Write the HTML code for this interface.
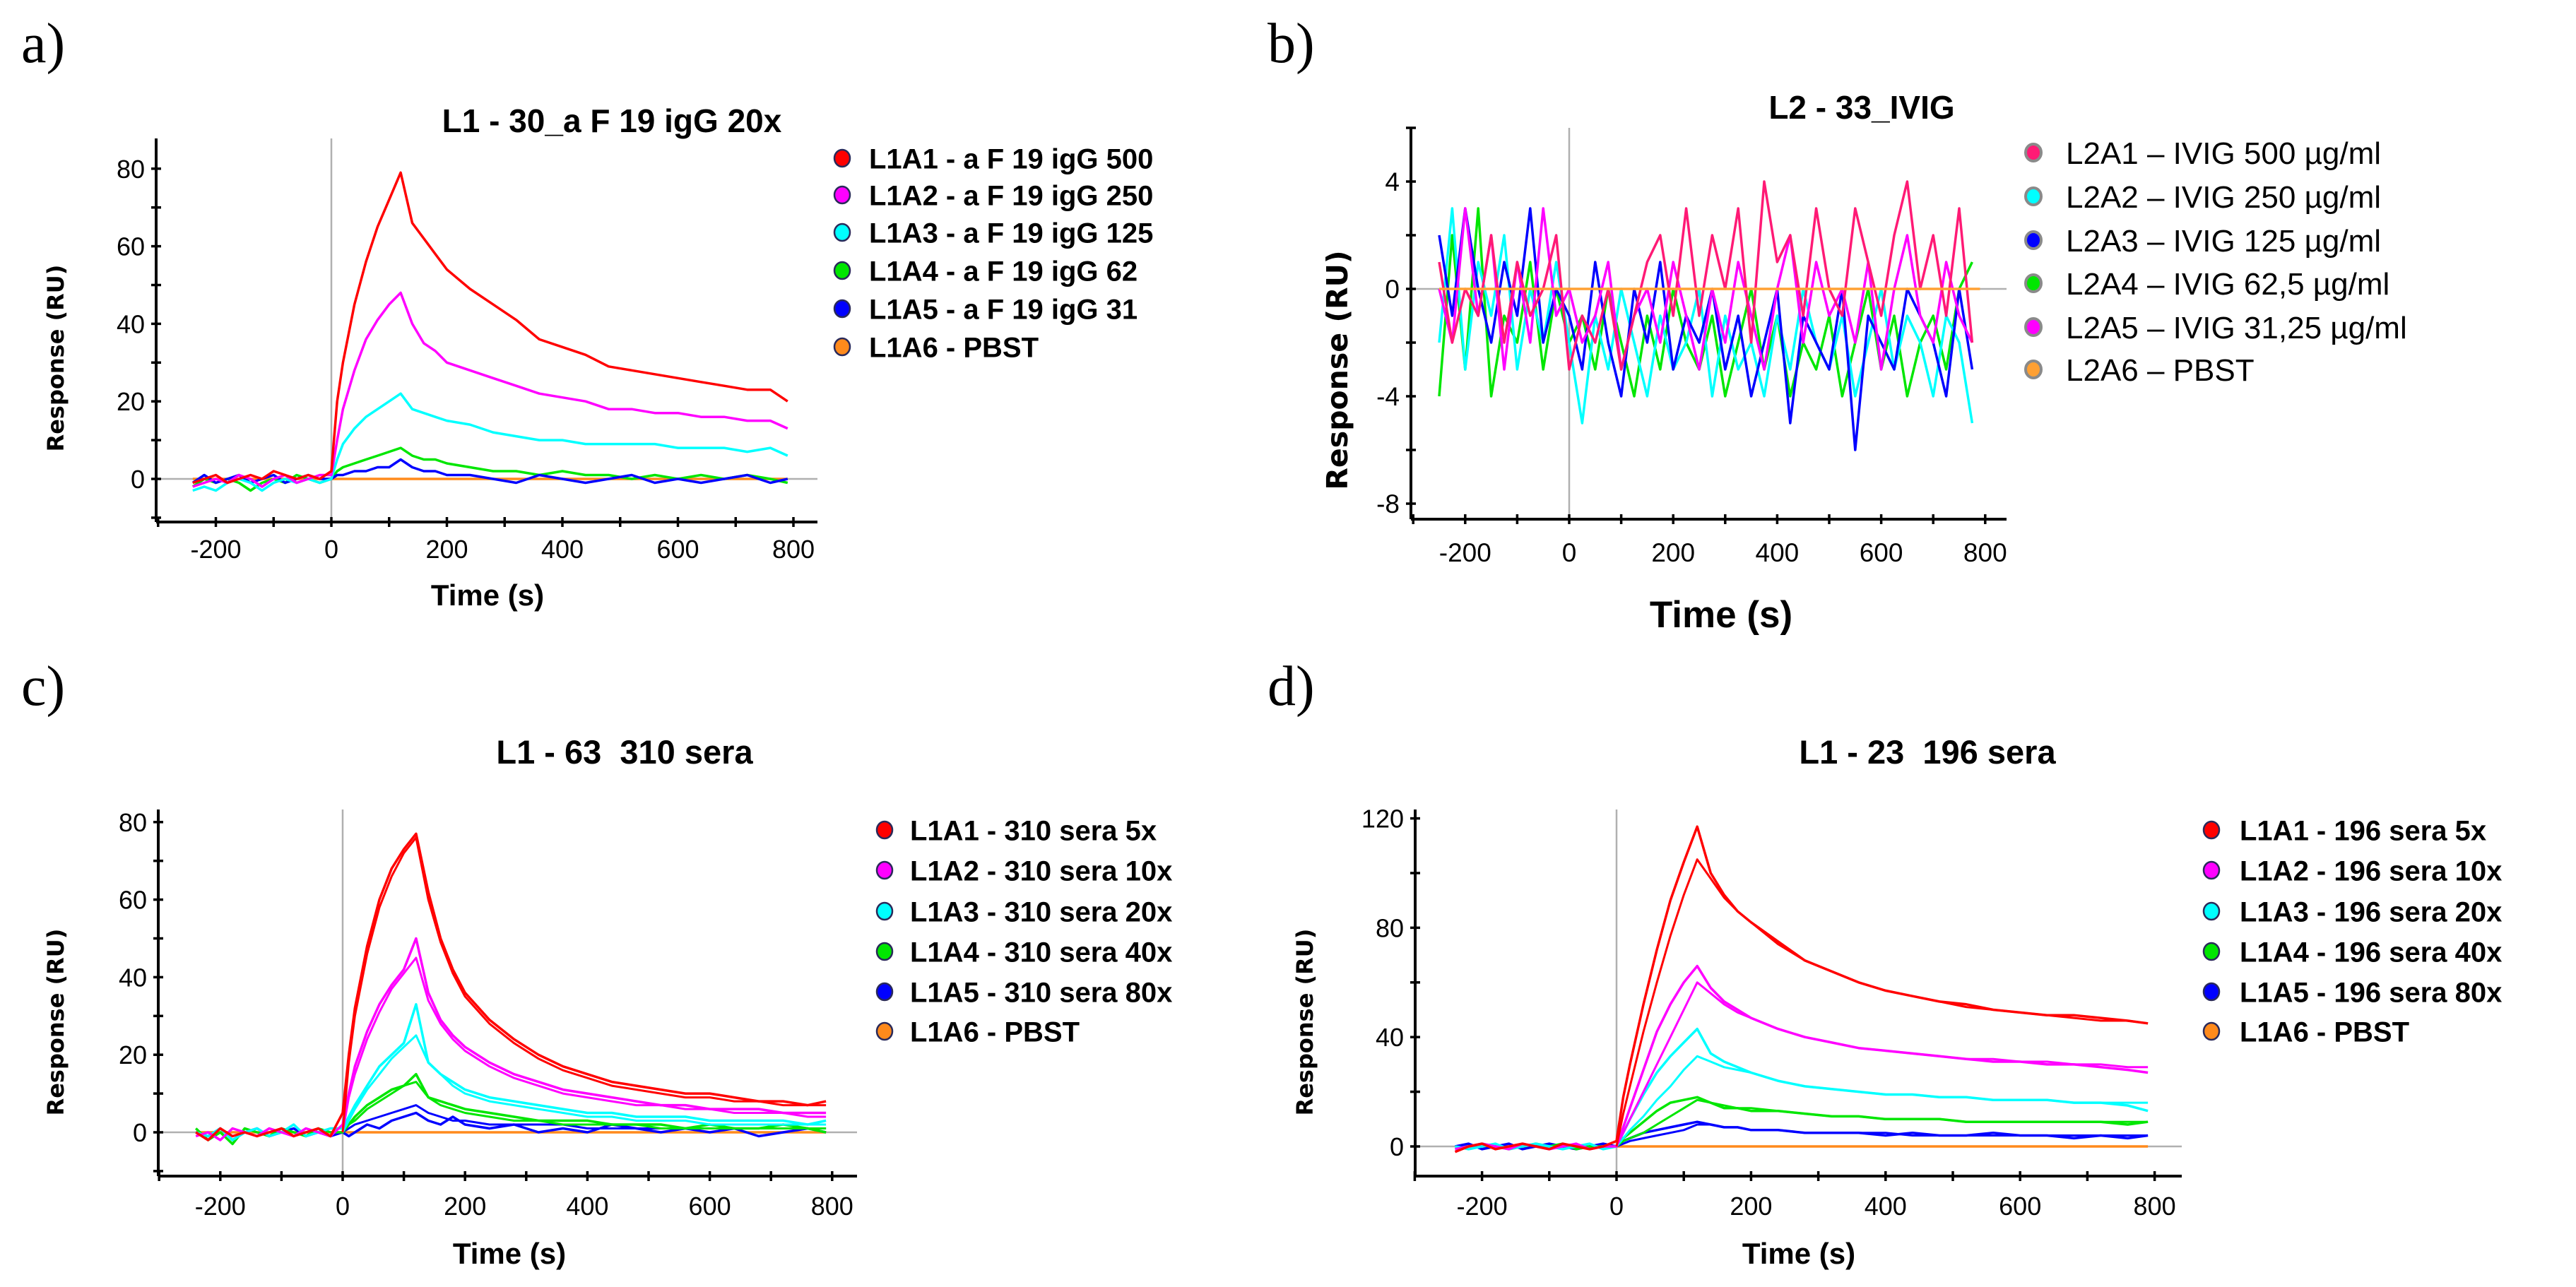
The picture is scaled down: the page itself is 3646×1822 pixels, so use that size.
<!DOCTYPE html>
<html><head><meta charset="utf-8"><style>
html,body{margin:0;padding:0;background:#fff}
svg{display:block}
text{font-family:"Liberation Sans",sans-serif;fill:#000}
.t{white-space:pre}
</style></head><body>
<svg id="fig" width="3646" height="1822" viewBox="0 0 3646 1822" xmlns="http://www.w3.org/2000/svg">
<rect width="3646" height="1822" fill="#fff"/>
<text x="30" y="88" font-family="Liberation Serif" font-size="80" style="font-family:'Liberation Serif',serif">a)</text>
<text x="1794" y="88" font-size="80" style="font-family:'Liberation Serif',serif">b)</text>
<text x="30" y="998" font-size="80" style="font-family:'Liberation Serif',serif">c)</text>
<text x="1794" y="998" font-size="80" style="font-family:'Liberation Serif',serif">d)</text>
</svg>
<script>
const T = [-240,-220,-200,-180,-160,-140,-120,-100,-80,-60,-40,-20,0,10,20,40,60,80,100,120,140,160,180,200,240,280,320,360,400,440,480,520,560,600,640,680,720,760,790];
const TF = [0,10,20,40,60,80,100,120,140,160,180,200,240,280,320,360,400,440,480,520,560,600,640,680,720,760,790];
const TB = [-250,-225,-200,-175,-150,-125,-100,-75,-50,-25,0,25,50,75,100,125,150,175,200,225,250,275,300,325,350,375,400,425,450,475,500,525,550,575,600,625,650,675,700,725,750,775];
const T0 = [-240,790];
const Z0 = [0,0];

const aRed=[-1,0,1,-1,0,1,0,2,1,0,1,0,2,20,30,45,56,65,72,79,66,62,58,54,49,45,41,36,34,32,29,28,27,26,25,24,23,23,20];
const aMag=[-2,-1,0,-1,1,0,-2,0,1,-1,0,1,1,10,18,28,36,41,45,48,40,35,33,30,28,26,24,22,21,20,18,18,17,17,16,16,15,15,13];
const aCyan=[-3,-2,-3,-1,0,-1,-3,-1,0,-1,0,-1,0,5,9,13,16,18,20,22,18,17,16,15,14,12,11,10,10,9,9,9,9,8,8,8,7,8,6];
const aGreen=[-2,0,-1,0,-1,-3,-1,0,-1,1,0,-1,0,2,3,4,5,6,7,8,6,5,5,4,3,2,2,1,2,1,1,0,1,0,1,0,1,0,-1];
const aBlue=[-1,1,-1,0,1,-1,0,1,-1,0,1,0,0,1,1,2,2,3,3,5,3,2,2,1,1,0,-1,1,0,-1,0,1,-1,0,-1,0,1,-1,0];

const bPink=[1,-2,0,-1,2,-2,1,-1,0,2,-3,-1,-2,0,-3,-1,1,2,-1,3,-1,2,0,3,-2,4,1,2,-1,3,0,-1,3,1,-1,2,4,0,2,-1,3,-2];
const bCyan=[-2,3,-3,1,-1,2,-3,0,-2,1,-2,-5,-1,-3,0,-2,-4,-1,-3,-2,0,-4,-1,-3,-2,-4,-1,-3,0,-2,-3,-1,-4,-2,0,-3,-1,-2,-4,-1,-2,-5];
const bBlue=[2,-1,3,0,-2,1,-1,3,-2,0,-1,-3,1,-2,-4,0,-2,1,-3,-1,-2,0,-3,-1,-4,-2,0,-5,-1,-2,-3,0,-6,-1,-2,-3,0,-1,-2,-4,0,-3];
const bGreen=[-4,2,-3,3,-4,-1,-2,1,-3,0,-2,-1,-3,0,-2,-4,-1,-3,0,-2,-3,-1,-4,-2,0,-3,-1,-4,-2,-3,-1,-4,-2,0,-3,-1,-4,-2,-1,-3,0,1];
const bMag=[0,-2,3,-1,2,-3,1,-2,3,-1,0,-2,-1,1,-3,-1,0,-2,1,-1,-3,0,-2,1,-1,-3,0,2,-2,1,-1,0,-2,1,-3,0,2,-1,-2,1,-1,-2];

const cRed=[0,-2,1,-1,0,-1,0,1,-1,0,1,-1,5,20,32,48,60,68,73,77,62,50,42,36,29,24,20,17,15,13,12,11,10,10,9,8,8,7,8];
const cRedFit=[0,18,30,46,58,66,72,76,60,49,41,35,28,23,19,16,14,12,11,10,9,9,8,8,7,7,7];
const cMag=[-1,0,-2,1,0,-1,1,0,-1,1,0,-1,2,10,17,26,33,38,42,50,36,29,25,22,18,15,13,11,10,9,8,7,7,6,6,6,5,5,5];
const cMagFit=[0,9,15,24,31,37,41,45,34,28,24,21,17,14,12,10,9,8,7,7,6,6,5,5,5,4,4];
const cCyan=[0,-1,1,-2,0,1,-1,0,2,-1,0,1,1,4,7,12,17,20,23,33,18,15,13,11,9,8,7,6,5,5,4,4,4,3,3,3,3,2,3];
const cCyanFit=[0,3,6,11,15,19,22,25,18,15,12,10,8,7,6,5,4,4,3,3,3,2,2,2,2,2,2];
const cGreen=[1,-2,0,-3,1,0,-1,1,0,-1,1,0,0,2,4,7,9,11,12,15,9,8,7,6,5,4,3,3,3,2,2,2,1,2,1,1,2,1,0];
const cGreenFit=[0,2,3,6,8,10,12,13,9,7,6,5,4,3,3,2,2,2,2,1,1,1,1,1,1,1,1];
const cBlue=[0,-1,1,-2,0,1,-1,0,1,-1,0,-1,0,-1,0,2,1,3,4,5,3,2,4,2,1,2,0,1,0,2,1,0,1,0,1,-1,0,1,0];
const cBlueFit=[0,1,2,3,4,5,6,7,5,4,3,3,2,2,2,2,1,1,1,1,1,1,1,1,1,1,1];

const dRed=[-2,0,1,-1,0,1,0,-1,1,0,-1,0,2,18,30,52,72,90,104,117,100,92,86,82,75,68,64,60,57,55,53,52,50,49,48,48,47,46,45];
const dRedFit=[0,12,22,42,60,77,92,105,98,91,86,82,74,68,64,60,57,55,53,51,50,49,48,47,46,46,45];
const dMag=[-1,0,1,0,-1,1,0,-1,0,1,-1,0,0,7,14,28,42,52,60,66,58,53,50,47,43,40,38,36,35,34,33,32,31,31,30,30,29,28,27];
const dMagFit=[0,5,10,20,30,40,50,60,56,52,49,47,43,40,38,36,35,34,33,32,32,31,31,30,30,29,29];
const dCyan=[0,-1,0,1,-1,0,1,0,-1,0,1,-1,0,5,10,19,27,33,38,43,34,31,29,27,24,22,21,20,19,19,18,18,17,17,17,16,16,15,13];
const dCyanFit=[0,3,6,11,17,22,28,33,31,29,28,27,24,22,21,20,19,19,18,18,17,17,17,16,16,16,16];
const dGreen=[-1,0,1,0,-1,0,1,0,1,-1,0,0,0,3,5,9,13,16,17,18,16,14,14,13,13,12,11,11,10,10,10,9,9,9,9,9,9,8,9];
const dGreenFit=[0,2,3,5,8,11,14,17,16,15,14,14,13,12,11,11,10,10,10,9,9,9,9,9,9,9,9];
const dBlue=[0,1,-1,0,1,-1,0,1,0,-1,0,1,0,2,3,5,6,7,8,9,8,7,7,6,6,5,5,5,4,5,4,4,5,4,4,3,4,3,4];
const dBlueFit=[0,1,2,3,4,5,6,8,8,7,7,6,6,5,5,5,5,4,4,4,4,4,4,4,4,4,4];

const legA=["L1A1 - a F 19 igG 500","L1A2 - a F 19 igG 250","L1A3 - a F 19 igG 125","L1A4 - a F 19 igG 62","L1A5 - a F 19 igG 31","L1A6 - PBST"];
const legB=["L2A1 \u2013 IVIG 500 \u00b5g/ml","L2A2 \u2013 IVIG 250 \u00b5g/ml","L2A3 \u2013 IVIG 125 \u00b5g/ml","L2A4 \u2013 IVIG 62,5 \u00b5g/ml","L2A5 \u2013 IVIG 31,25 \u00b5g/ml","L2A6 \u2013 PBST"];
const legC=["L1A1 - 310 sera 5x","L1A2 - 310 sera 10x","L1A3 - 310 sera 20x","L1A4 - 310 sera 40x","L1A5 - 310 sera 80x","L1A6 - PBST"];
const legD=["L1A1 - 196 sera 5x","L1A2 - 196 sera 10x","L1A3 - 196 sera 20x","L1A4 - 196 sera 40x","L1A5 - 196 sera 80x","L1A6 - PBST"];

const NS="http://www.w3.org/2000/svg";
const svg=document.getElementById('fig');
const RED="#ff0000",MAG="#ff00ff",CYA="#00ffff",GRN="#00e600",BLU="#0000ff",ORA="#ff8a1c",PNK="#ff1a75";

function mk(tag,attrs,parent){const e=document.createElementNS(NS,tag);for(const k in attrs)e.setAttribute(k,attrs[k]);(parent||svg).appendChild(e);return e;}

function panel(c){
  const g=mk('g',{});
  
  
  const sx=t=>c.x0+t*c.pxs, sy=v=>c.y0-v*c.pxu;
  const ref1=mk('line',{x1:c.L,x2:c.R,y1:sy(0),y2:sy(0),stroke:'#b0b0b0','stroke-width':2.5},g);
  
  
  const ref2=mk('line',{x1:sx(0),x2:sx(0),y1:c.T,y2:c.B,stroke:'#b0b0b0','stroke-width':2.5},g);
  
  
  c.series.forEach(s=>{
    const pts=s.t.map((t,i)=>sx(t).toFixed(1)+','+sy(s.v[i]).toFixed(1)).join(' ');
    const p=mk('polyline',{points:pts,fill:'none',stroke:s.col,'stroke-width':s.w||3.5,'stroke-linejoin':'round'},g);
    
    
  });
  const ax=mk('g',{},g);
  
  
  mk('line',{x1:c.L,x2:c.L,y1:c.T,y2:c.B,stroke:'#000','stroke-width':4},ax);
  mk('line',{x1:c.L,x2:c.R,y1:c.B,y2:c.B,stroke:'#000','stroke-width':4},ax);
  for(let v=c.yt[0];v<=c.yt[1]+1e-9;v+=c.yt[2]){
    mk('line',{x1:c.L-7,x2:c.L+7,y1:sy(v),y2:sy(v),stroke:'#000','stroke-width':3.5},ax);
  }
  c.yl.forEach(v=>{
    const tx=mk('text',{x:c.L-16,y:sy(v)+13,'font-size':c.tf,'text-anchor':'end'},ax);
    tx.textContent=v;
    
    
  });
  for(let t=-300;t<=800;t+=100){
    mk('line',{x1:sx(t),x2:sx(t),y1:c.B-7,y2:c.B+7,stroke:'#000','stroke-width':3.5},ax);
  }
  [-200,0,200,400,600,800].forEach(t=>{
    const tx=mk('text',{x:sx(t),y:c.xly,'font-size':c.tf,'text-anchor':'middle'},ax);
    tx.textContent=t;
    
    
  });
  const ti=mk('text',{x:c.tx,y:c.ty,'font-size':c.tfs,'font-weight':'bold','text-anchor':'middle','class':'t'},g);
  ti.textContent=c.title;
  
  
  const yt=mk('text',{x:0,y:0,'font-size':c.ytf,'font-weight':'bold','text-anchor':'middle',transform:`translate(${c.ytx},${c.yty}) rotate(-90)`,style:'font-family:"DejaVu Sans",sans-serif'},g);
  yt.textContent='Response (RU)';
  
  
  const xt=mk('text',{x:c.xtx,y:c.xty,'font-size':c.xtf,'font-weight':'bold','text-anchor':'middle'},g);
  xt.textContent='Time (s)';
  
  
  const lg=mk('g',{},g);
  
  
  c.leg.forEach((lab,i)=>{
    const y=c.ly[i];
    const e=mk('g',{},lg);
    
    
    mk('ellipse',{cx:c.lmx,cy:y,rx:11,ry:12,fill:c.lcol[i],stroke:c.lstroke,'stroke-width':c.lsw},e);
    const tx=mk('text',{x:c.ltx,y:y+c.lf*0.36,'font-size':c.lf,'font-weight':c.lbold?'bold':'normal'},e);
    tx.textContent=lab;
  });
}

function S(t,v,col,n,w){return {t:t,v:v,col:col,n:n,w:w};}
const LC=[RED,MAG,CYA,GRN,BLU,ORA];
const ROWS_A=[224,276,329,383,437,491];
const ROWS_C=[1175,1232,1290,1347,1404,1460];

panel({name:'panel-a',x0:469,pxs:0.8175,y0:678,pxu:5.49,L:221,R:1157,T:196,B:739,yt:[-10,80,10],yl:[0,20,40,60,80],tf:36,xly:790,
  title:'L1 - 30_a F 19 igG 20x',tx:866,ty:187,tfs:46,ytx:90,yty:507,ytf:32,xtx:690,xty:857,xtf:42,
  leg:legA,ly:ROWS_A,lmx:1192,ltx:1230,lf:40,lbold:true,lcol:LC,lstroke:'#2a2a5a',lsw:2.5,
  series:[S(T0,Z0,ORA,'series-l1a6'),S(T,aGreen,GRN,'series-l1a4'),S(T,aBlue,BLU,'series-l1a5'),S(T,aCyan,CYA,'series-l1a3'),S(T,aMag,MAG,'series-l1a2'),S(T,aRed,RED,'series-l1a1')]});

panel({name:'panel-b',x0:2221,pxs:0.736,y0:409,pxu:38,L:1997,R:2840,T:181,B:735,yt:[-8,6,2],yl:[4,0,-4,-8],tf:37,xly:795,
  title:'L2 - 33_IVIG',tx:2635,ty:168,tfs:46,ytx:1907,yty:524,ytf:41,xtx:2436,xty:888,xtf:53,
  leg:legB,ly:[216,278,340,401,463,523],lmx:2878,ltx:2924,lf:44,lbold:false,lcol:[PNK,CYA,BLU,GRN,MAG,"#ffa033"],lstroke:'#8a8a8a',lsw:4,
  series:[S(TB,bGreen,GRN,'series-l2a4'),S(TB,bCyan,CYA,'series-l2a2'),S(TB,bBlue,BLU,'series-l2a3'),S(TB,bMag,MAG,'series-l2a5'),S(TB,bPink,PNK,'series-l2a1'),S([-250,790],Z0,"#ffa033",'series-l2a6')]});

panel({name:'panel-c',x0:485,pxs:0.866,y0:1603,pxu:5.49,L:224,R:1213,T:1146,B:1665,yt:[-10,80,10],yl:[0,20,40,60,80],tf:36,xly:1720,
  title:'L1 - 63  310 sera',tx:884,ty:1081,tfs:47,ytx:90,yty:1447,ytf:32,xtx:721,xty:1789,xtf:42,
  leg:legC,ly:ROWS_C,lmx:1252,ltx:1288,lf:40,lbold:true,lcol:LC,lstroke:'#2a2a5a',lsw:2.5,
  series:[S(T0,Z0,ORA,'series-l1a6'),S(T,cBlue,BLU,'series-l1a5'),S(TF,cBlueFit,BLU,'fit-l1a5',3),S(T,cGreen,GRN,'series-l1a4'),S(TF,cGreenFit,GRN,'fit-l1a4',3),S(T,cCyan,CYA,'series-l1a3'),S(TF,cCyanFit,CYA,'fit-l1a3',3),S(T,cMag,MAG,'series-l1a2'),S(TF,cMagFit,MAG,'fit-l1a2',3),S(T,cRed,RED,'series-l1a1'),S(TF,cRedFit,RED,'fit-l1a1',3)]});

panel({name:'panel-d',x0:2288,pxs:0.952,y0:1623,pxu:3.87,L:2003,R:3088,T:1146,B:1665,yt:[0,120,20],yl:[0,40,80,120],tf:36,xly:1720,
  title:'L1 - 23  196 sera',tx:2728,ty:1081,tfs:47,ytx:1858,yty:1447,ytf:32,xtx:2546,xty:1789,xtf:42,
  leg:legD,ly:ROWS_C,lmx:3130,ltx:3170,lf:40,lbold:true,lcol:LC,lstroke:'#2a2a5a',lsw:2.5,
  series:[S(T0,Z0,ORA,'series-l1a6'),S(T,dBlue,BLU,'series-l1a5'),S(TF,dBlueFit,BLU,'fit-l1a5',3),S(T,dGreen,GRN,'series-l1a4'),S(TF,dGreenFit,GRN,'fit-l1a4',3),S(T,dCyan,CYA,'series-l1a3'),S(TF,dCyanFit,CYA,'fit-l1a3',3),S(T,dMag,MAG,'series-l1a2'),S(TF,dMagFit,MAG,'fit-l1a2',3),S(T,dRed,RED,'series-l1a1'),S(TF,dRedFit,RED,'fit-l1a1',3)]});
</script>
</body></html>
